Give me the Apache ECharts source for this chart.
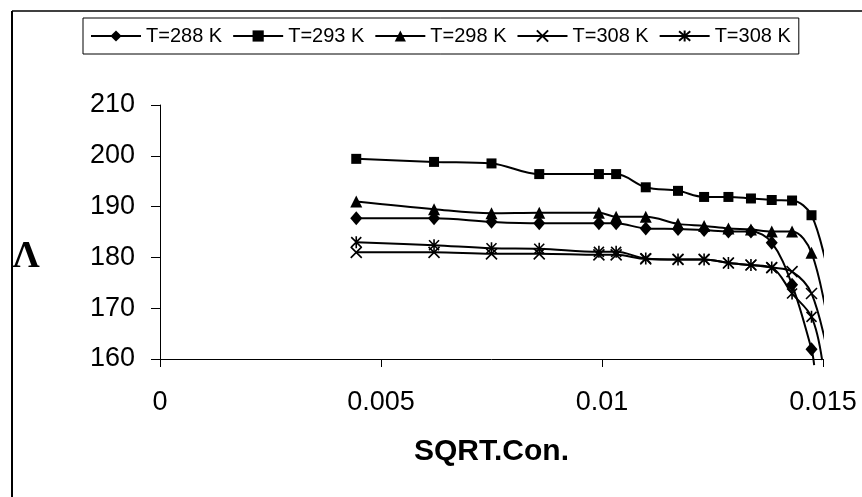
<!DOCTYPE html>
<html>
<head>
<meta charset="utf-8">
<script src="https://cdn.jsdelivr.net/npm/echarts@6/dist/echarts.min.js"></script>
<style>html,body{margin:0;padding:0;background:#fff}</style>
</head>
<body>
<div id="chart" style="width:862px;height:497px"></div>
<script>
  // x: square root of concentration
  const sqrtCon = [0.00444, 0.0062, 0.0075, 0.00858, 0.00993, 0.01032, 0.01099, 0.01172, 0.01231, 0.01286, 0.01337, 0.01384, 0.0143, 0.01474]
  const lambda288 = [187.7, 187.7, 187.0, 186.7, 186.7, 186.7, 185.7, 185.6, 185.4, 185.1, 185.1, 182.9, 174.6, 161.9]
  const lambda293 = [199.4, 198.8, 198.5, 196.4, 196.4, 196.4, 193.8, 193.1, 191.9, 191.9, 191.6, 191.3, 191.2, 188.3]
  const lambda298 = [191.0, 189.5, 188.7, 188.8, 188.8, 188.0, 188.0, 186.6, 186.2, 185.7, 185.5, 185.1, 185.1, 180.9]
  const lambda308a = [181.0, 181.0, 180.7, 180.7, 180.5, 180.5, 179.7, 179.6, 179.6, 178.9, 178.5, 178.0, 177.2, 172.9]
  const lambda308b = [183.0, 182.4, 181.8, 181.7, 181.1, 181.1, 179.8, 179.6, 179.6, 178.9, 178.5, 178.0, 172.9, 168.3]
  // where each curve leaves the picture
  const tail288 = [0.0148, 158.8]
  const tail293 = [0.01513, 176.3]
  const tail298 = [0.01513, 166.3]
  const tail308a = [0.01513, 160.2]
  const tail308b = [0.01498, 159.8]
  const seriesNames = ['T=288 K', 'T=293 K', 'T=298 K', 'T=308 K', 'T=308 K']
  const yTicks = [160, 170, 180, 190, 200, 210]
  const xTicks = [0, 0.005, 0.01, 0.015]

  const crossPath = 'path://M0,0L10,10M10,0L0,10'
  const starPath = 'path://M1,1L11,11M11,1L1,11M6,0L6,12'

  function buildData(vals, tail) {
    let d = sqrtCon.map((x, i) => [x, vals[i]])
    d.push({value: tail, symbol: 'none'})
    return d
  }

  function makeSeries(i, vals, tail, symbol, size, stroked) {
    return {
      name: 's' + i,
      type: 'line',
      smooth: 0.35,
      clip: false,
      symbol: symbol,
      symbolSize: size,
      symbolKeepAspect: true,
      showAllSymbol: true,
      data: buildData(vals, tail),
      lineStyle: {color: '#000', width: 2},
      itemStyle: stroked
        ? {color: '#000', borderColor: '#000', borderWidth: 1.6}
        : {color: '#000', borderWidth: 0},
      emphasis: {disabled: true}
    }
  }

  let myChart = echarts.init(document.getElementById('chart'))
  myChart.setOption({
    animation: false,
    backgroundColor: '#fff',
    textStyle: {fontFamily: 'Liberation Sans'},
    grid: {left: 160, right: 39, top: 105, bottom: 138},
    legend: {
      left: 83,
      top: 18,
      padding: [8, 8, 8, 7],
      itemWidth: 50,
      itemHeight: 14,
      itemGap: 10,
      borderColor: '#000',
      borderWidth: 1,
      borderRadius: 0,
      data: seriesNames.map((n, i) => 's' + i),
      formatter: name => seriesNames[+name.slice(1)],
      textStyle: {fontSize: 20, color: '#000', fontFamily: 'Liberation Sans'}
    },
    xAxis: {
      type: 'value',
      min: xTicks[0],
      max: xTicks[xTicks.length - 1],
      interval: 0.005,
      name: 'SQRT.Con.',
      nameLocation: 'middle',
      nameGap: 78,
      nameTextStyle: {fontSize: 30, fontWeight: 'bold', color: '#000', fontFamily: 'Liberation Sans'},
      axisLine: {lineStyle: {color: '#000', width: 1}},
      axisTick: {show: true, length: 8, lineStyle: {color: '#000'}},
      axisLabel: {fontSize: 27, color: '#000', margin: 30},
      splitLine: {show: false}
    },
    yAxis: {
      type: 'value',
      min: yTicks[0],
      max: yTicks[yTicks.length - 1],
      interval: 10,
      axisLine: {show: true, lineStyle: {color: '#000', width: 1}},
      axisTick: {show: true, length: 9, lineStyle: {color: '#000'}},
      axisLabel: {fontSize: 27, color: '#000', margin: 25},
      splitLine: {show: false}
    },
    graphic: [
      {type: 'line', shape: {x1: 12, y1: 11, x2: 12, y2: 497}, style: {stroke: '#000', lineWidth: 2}},
      {type: 'line', shape: {x1: 12, y1: 11, x2: 862, y2: 11}, style: {stroke: '#000', lineWidth: 1.5}},
      {type: 'text', x: 26, y: 257, style: {text: 'Λ', font: 'bold 38px "Liberation Serif"', fill: '#000', align: 'center', verticalAlign: 'middle'}}
    ],
    series: [
      makeSeries(0, lambda288, tail288, 'diamond', [12, 14], false),
      makeSeries(1, lambda293, tail293, 'rect', 10, false),
      makeSeries(2, lambda298, tail298, 'triangle', [12, 12], false),
      makeSeries(3, lambda308a, tail308a, crossPath, 11, true),
      makeSeries(4, lambda308b, tail308b, starPath, 12, true)
    ]
  })
</script>
</body>
</html>
